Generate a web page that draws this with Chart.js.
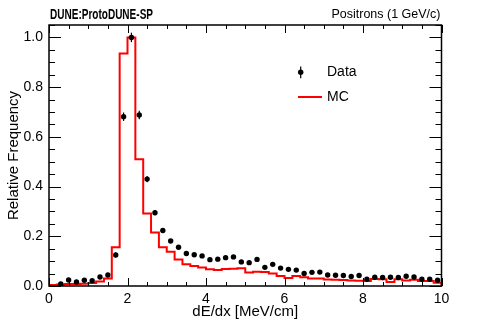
<!DOCTYPE html>
<html>
<head>
<meta charset="utf-8">
<script src="https://cdn.jsdelivr.net/npm/chart.js@4.4.0/dist/chart.umd.min.js"></script>
<style>
  html, body { margin: 0; padding: 0; background: #fff; }
</style>
</head>
<body>
<canvas id="dedx" width="491" height="327"></canvas>
<script>
// bins of 0.2 MeV/cm from 0 to 10
const binLow = [0.0, 0.2, 0.4, 0.6, 0.8, 1.0, 1.2, 1.4, 1.6, 1.8,
                2.0, 2.2, 2.4, 2.6, 2.8, 3.0, 3.2, 3.4, 3.6, 3.8,
                4.0, 4.2, 4.4, 4.6, 4.8, 5.0, 5.2, 5.4, 5.6, 5.8,
                6.0, 6.2, 6.4, 6.6, 6.8, 7.0, 7.2, 7.4, 7.6, 7.8,
                8.0, 8.2, 8.4, 8.6, 8.8, 9.0, 9.2, 9.4, 9.6, 9.8];
const binWidth = 0.2;

// Data (black points), null = empty bin
const dataVals = [null, 0.008, 0.024, 0.016, 0.023, 0.021, 0.036, 0.044, 0.125, 0.681,
                  1.000, 0.688, 0.430, 0.295, 0.223, 0.181, 0.156, 0.131, 0.126, 0.121,
                  0.106, 0.108, 0.114, 0.117, 0.097, 0.094, 0.107, 0.075, 0.087, 0.072,
                  0.067, 0.064, 0.050, 0.055, 0.056, 0.044, 0.043, 0.042, 0.038, 0.042,
                  0.027, 0.035, 0.034, 0.035, 0.034, 0.039, 0.036, 0.027, 0.027, 0.023];
const dataErr = [null, 0.003, 0.004, 0.004, 0.004, 0.004, 0.005, 0.006, 0.010, 0.017,
                 0.019, 0.017, 0.013, 0.011, 0.009, 0.008, 0.008, 0.007, 0.007, 0.007,
                 0.006, 0.006, 0.006, 0.006, 0.006, 0.006, 0.006, 0.005, 0.005, 0.005,
                 0.005, 0.005, 0.004, 0.004, 0.004, 0.004, 0.004, 0.004, 0.004, 0.004,
                 0.003, 0.004, 0.004, 0.004, 0.004, 0.004, 0.004, 0.003, 0.003, 0.003];

// MC (red histogram)
const mcVals = [0.004, 0.006, 0.008, 0.008, 0.009, 0.012, 0.018, 0.030, 0.156, 0.935,
                1.000, 0.510, 0.292, 0.215, 0.156, 0.138, 0.107, 0.088, 0.080, 0.074,
                0.067, 0.064, 0.068, 0.069, 0.071, 0.054, 0.057, 0.056, 0.050, 0.040,
                0.032, 0.040, 0.035, 0.030, 0.030, 0.026, 0.025, 0.024, 0.022, 0.021,
                0.020, 0.028, 0.027, 0.016, 0.027, 0.022, 0.025, 0.020, 0.020, 0.013];

const xTickLabels = [0, 2, 4, 6, 8, 10];
const yTickLabels = ["0.0", "0.2", "0.4", "0.6", "0.8", "1.0"];

const FONT = '"Liberation Sans", Arial, Helvetica, sans-serif';

const dataPoints = [];
binLow.forEach((lo, i) => {
  if (dataVals[i] !== null) dataPoints.push({ x: lo + binWidth / 2, y: dataVals[i] });
});

const mcPoints = [{ x: binLow[0], y: 0 }];
binLow.forEach((lo, i) => mcPoints.push({ x: lo + binWidth, y: mcVals[i] }));
mcPoints.push({ x: binLow[binLow.length - 1] + binWidth, y: 0 });

// ROOT-like frame, inward ticks, error bars, titles and legend
const rootStyle = {
  id: 'rootStyle',
  afterDatasetsDraw(chart) {
    const { ctx, chartArea: a, scales: { x, y } } = chart;
    ctx.save();

    // error bars
    ctx.strokeStyle = '#000';
    ctx.lineWidth = 1.2;
    binLow.forEach((lo, i) => {
      if (dataVals[i] === null) return;
      const px = x.getPixelForValue(lo + binWidth / 2);
      ctx.beginPath();
      ctx.moveTo(px, y.getPixelForValue(dataVals[i] - dataErr[i]));
      ctx.lineTo(px, y.getPixelForValue(dataVals[i] + dataErr[i]));
      ctx.stroke();
    });

    // frame
    ctx.lineWidth = 1.5;
    ctx.strokeRect(a.left, a.top, a.right - a.left, a.bottom - a.top);

    // x ticks (every 0.5, major every 2)
    ctx.lineWidth = 1;
    for (let k = 0; k <= 20; k++) {
      const v = k * 0.5;
      const len = (k % 4 === 0) ? 8 : 4;
      const px = Math.round(x.getPixelForValue(v)) + 0.5;
      ctx.beginPath();
      ctx.moveTo(px, a.bottom); ctx.lineTo(px, a.bottom - len);
      ctx.moveTo(px, a.top); ctx.lineTo(px, a.top + len);
      ctx.stroke();
    }
    // y ticks (every 0.05, major every 0.2)
    for (let k = 0; k <= 21; k++) {
      const v = k * 0.05;
      const len = (k % 4 === 0) ? 12 : 6;
      const py = Math.round(y.getPixelForValue(v)) + 0.5;
      ctx.beginPath();
      ctx.moveTo(a.left, py); ctx.lineTo(a.left + len, py);
      ctx.moveTo(a.right, py); ctx.lineTo(a.right - len, py);
      ctx.stroke();
    }

    // header texts (title is a narrow bold face in the original)
    ctx.fillStyle = '#000';
    ctx.textBaseline = 'alphabetic';
    ctx.textAlign = 'left';
    ctx.font = 'bold 14px ' + FONT;
    const title = 'DUNE:ProtoDUNE-SP';
    const tw = ctx.measureText(title).width;
    ctx.save();
    ctx.translate(a.left + 1, 18.5);
    ctx.scale(103 / tw, 1);
    ctx.fillText(title, 0, 0);
    ctx.restore();
    ctx.textAlign = 'right';
    ctx.font = '12.5px ' + FONT;
    ctx.fillText('Positrons (1 GeV/c)', a.right - 1, 18);

    // axis titles
    ctx.font = '15px ' + FONT;
    ctx.textAlign = 'center';
    ctx.fillText('dE/dx [MeV/cm]', (a.left + a.right) / 2, 316);
    ctx.save();
    ctx.translate(14, (a.top + a.bottom) / 2);
    ctx.rotate(-Math.PI / 2);
    ctx.textBaseline = 'middle';
    ctx.fillText('Relative Frequency', 0, 0);
    ctx.restore();

    // legend
    ctx.textAlign = 'left';
    ctx.textBaseline = 'middle';
    ctx.font = '14px ' + FONT;
    ctx.lineWidth = 1.2;
    ctx.beginPath();
    ctx.moveTo(300.7, 66.5); ctx.lineTo(300.7, 78.3);
    ctx.stroke();
    ctx.beginPath();
    ctx.arc(300.7, 72.3, 2.7, 0, Math.PI * 2);
    ctx.fill();
    ctx.fillText('Data', 327, 72.5);
    ctx.strokeStyle = '#ff0000';
    ctx.lineWidth = 2;
    ctx.beginPath();
    ctx.moveTo(298, 97); ctx.lineTo(322, 97);
    ctx.stroke();
    ctx.fillText('MC', 327, 97.5);

    ctx.restore();
  }
};

new Chart(document.getElementById('dedx'), {
  type: 'scatter',
  data: {
    datasets: [
      {
        label: 'Data',
        data: dataPoints,
        pointRadius: 2.7,
        pointBackgroundColor: '#000',
        pointBorderWidth: 0,
        showLine: false
      },
      {
        label: 'MC',
        type: 'line',
        data: mcPoints,
        stepped: 'after',
        borderColor: '#ff0000',
        borderWidth: 2,
        pointRadius: 0,
        fill: false
      }
    ]
  },
  options: {
    responsive: false,
    animation: false,
    layout: { padding: { top: 25, right: 49.5, left: 0, bottom: 0 } },
    plugins: { legend: { display: false }, tooltip: { enabled: false } },
    scales: {
      x: {
        type: 'linear',
        min: 0, max: 10,
        afterFit: s => { s.height = 41; },
        grid: { display: false, drawTicks: false },
        border: { display: false },
        afterBuildTicks: s => { s.ticks = xTickLabels.map(v => ({ value: v })); },
        ticks: {
          color: '#000',
          padding: 5,
          maxRotation: 0,
          font: { family: FONT, size: 14 },
          callback: v => String(v)
        }
      },
      y: {
        min: 0, max: 1.05,
        afterFit: s => { s.width = 49; },
        grid: { display: false, drawTicks: false },
        border: { display: false },
        afterBuildTicks: s => { s.ticks = yTickLabels.map(t => ({ value: parseFloat(t) })); },
        ticks: {
          color: '#000',
          padding: 6,
          font: { family: FONT, size: 14 },
          callback: v => v.toFixed(1)
        }
      }
    }
  },
  plugins: [rootStyle]
});
</script>
</body>
</html>
